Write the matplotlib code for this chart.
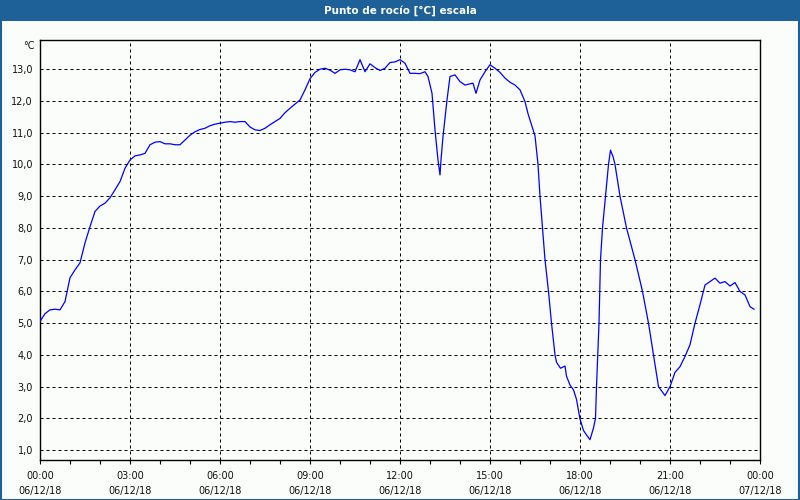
import matplotlib
matplotlib.use("Agg")
import matplotlib.pyplot as plt
import matplotlib.dates as mdates
from matplotlib.patches import Rectangle
import pandas as pd

title = "Punto de rocío [°C] escala"
unit = "°C"
start_day = "2018-12-06"

minutes = [0, 10, 20, 30, 40, 50, 55, 60, 70, 80, 90, 100, 110, 120, 130, 140, 150, 160, 170, 180,
           190, 200, 210, 220, 230, 240, 250, 260, 270, 280, 290, 300, 310, 320, 330, 340, 350, 360,
           370, 380, 390, 400, 410, 420, 430, 440, 450, 460, 470, 480, 490, 500, 510, 520, 530, 540,
           550, 560, 570, 580, 590, 600, 610, 620, 630, 640, 650, 660, 670, 680, 690, 700, 710, 720,
           730, 740, 750, 760, 770, 776, 784, 790, 796, 800, 802, 806, 814, 820, 830, 840, 850, 860,
           866, 872, 880, 890, 900, 910, 920, 930, 940, 950, 960, 970, 976, 984, 990, 996, 1000, 1005,
           1010, 1017, 1023, 1030, 1033, 1041, 1050, 1053, 1060, 1067, 1073, 1080, 1087, 1093, 1100,
           1107, 1111, 1113, 1118, 1121, 1125, 1131, 1137, 1141, 1146, 1150, 1160, 1173, 1190, 1205,
           1217, 1227, 1237, 1250, 1260, 1270, 1280, 1290, 1300, 1310, 1320, 1330, 1340, 1350, 1360,
           1370, 1380, 1390, 1400, 1410, 1420, 1428]
dew_point = [5.05, 5.30, 5.42, 5.44, 5.42, 5.68, 6.05, 6.43, 6.68, 6.90, 7.53, 8.04, 8.52, 8.69, 8.78,
             8.95, 9.20, 9.46, 9.88, 10.14, 10.27, 10.30, 10.35, 10.62, 10.70, 10.72, 10.65, 10.65,
             10.62, 10.62, 10.77, 10.92, 11.03, 11.10, 11.14, 11.22, 11.27, 11.30, 11.33, 11.35, 11.33,
             11.35, 11.35, 11.18, 11.09, 11.07, 11.14, 11.25, 11.35, 11.45, 11.63, 11.77, 11.90, 12.03,
             12.35, 12.70, 12.90, 13.00, 13.03, 12.97, 12.87, 12.98, 13.00, 12.98, 12.92, 13.30, 12.92,
             13.17, 13.05, 12.96, 13.03, 13.21, 13.23, 13.30, 13.19, 12.87, 12.87, 12.86, 12.92, 12.77,
             12.24, 11.09, 10.14, 9.67, 10.14, 10.88, 12.03, 12.77, 12.82, 12.61, 12.50, 12.54, 12.56,
             12.24, 12.66, 12.92, 13.14, 13.03, 12.90, 12.72, 12.59, 12.50, 12.35, 11.98, 11.60, 11.20,
             10.90, 10.00, 9.00, 8.00, 7.00, 6.00, 5.00, 4.00, 3.77, 3.58, 3.65, 3.33, 3.05, 2.90, 2.60,
             1.98, 1.62, 1.48, 1.33, 1.70, 2.00, 3.00, 5.00, 7.00, 8.00, 9.00, 10.00, 10.45, 10.25,
             10.00, 9.00, 8.00, 7.00, 6.00, 5.00, 4.00, 3.00, 2.72, 3.00, 3.45, 3.63, 3.95, 4.32, 5.00,
             5.58, 6.20, 6.31, 6.42, 6.26, 6.31, 6.17, 6.28, 6.00, 5.89, 5.52, 5.44]
y_ticks = [1, 2, 3, 4, 5, 6, 7, 8, 9, 10, 11, 12, 13]
x_tick_hours = [0, 3, 6, 9, 12, 15, 18, 21, 24]

day0 = pd.Timestamp(start_day)
times = [day0 + pd.Timedelta(minutes=m) for m in minutes]
xticks = [day0 + pd.Timedelta(hours=h) for h in x_tick_hours]
xminor = [day0 + pd.Timedelta(hours=h) for h in range(0, 25)]

W, H = 800, 500
bg = "#FAFDFA"
bar = "#1D6198"
fig = plt.figure(figsize=(8, 5), dpi=100, facecolor=bg)

# title bar and window border
fig.patches.append(Rectangle((0, 1 - 21 / H), 1, 21 / H, transform=fig.transFigure,
                             facecolor=bar, edgecolor="none", zorder=0))
fig.patches.append(Rectangle((0.5 / W, 0.5 / H), 1 - 1.5 / W, 1 - 1.5 / H, transform=fig.transFigure,
                             facecolor="none", edgecolor=bar, linewidth=1.5, zorder=1))
fig.text(0.5, 1 - 11 / H, title, color="white", fontsize=7.5, fontweight="bold",
         ha="center", va="center", family="DejaVu Sans")

ax = fig.add_axes([40 / W, 1 - 460 / H, 720 / W, 420 / H])
ax.set_facecolor(bg)
ax.plot(times, dew_point, color="#0000FF", linewidth=0.9, zorder=3)

ax.set_xlim(xticks[0], xticks[-1])
ax.set_ylim(0.69, 13.92)

ax.set_yticks(y_ticks)
ax.set_yticklabels([f"{v:.1f}".replace(".", ",") for v in y_ticks])
ax.set_xticks(xticks)
ax.set_xticks(xminor, minor=True)
ax.xaxis.set_major_formatter(mdates.DateFormatter("%H:%M\n%d/%m/%y"))

ax.tick_params(axis="y", length=0, pad=5, labelsize=7, labelcolor="#111111")
ax.tick_params(axis="x", which="both", direction="out", length=3, width=0.8, color="black",
               labelsize=7, labelcolor="#111111", pad=5)
for lbl in ax.get_xticklabels():
    lbl.set_linespacing(1.55)

for s in ax.spines.values():
    s.set_color("black")
    s.set_linewidth(1.0)

ax.grid(True, which="major", color="black", linestyle=(0, (3, 3)), linewidth=0.72, zorder=1)

fig.text(35 / W, 1 - 46 / H, unit, fontsize=7, ha="right", va="center", color="#111111")

fig.savefig("out.png", dpi=100, facecolor=bg)
